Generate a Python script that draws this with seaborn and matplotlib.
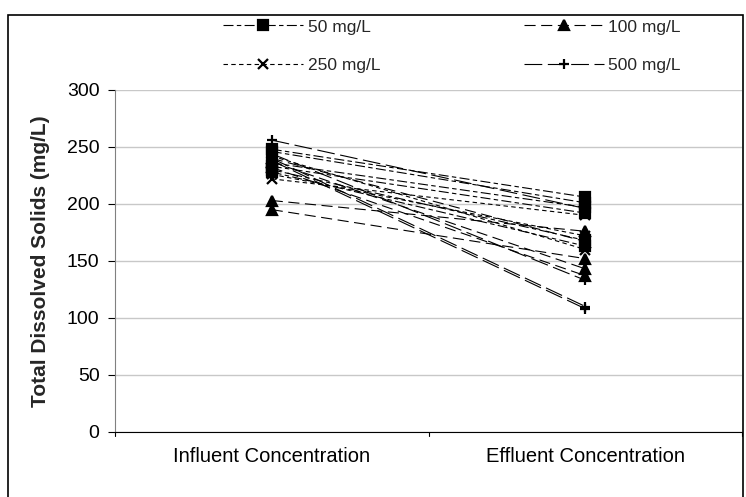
import pandas as pd
import matplotlib.pyplot as plt
import seaborn as sns
from matplotlib.lines import Line2D
from matplotlib.patches import Rectangle

# Data: one influent/effluent pair per test run
stages = ["Influent Concentration", "Effluent Concentration"]
conc_labels = ["50 mg/L", "100 mg/L", "250 mg/L", "500 mg/L"]

influent_50 = [248, 246, 236, 233, 230, 228]
effluent_50 = [206, 201, 197, 192, 168, 163]
influent_100 = [203, 195, 240, 237, 232]
effluent_100 = [176, 152, 167, 143, 137]
influent_250 = [222, 226, 242]
effluent_250 = [190, 172, 160]
influent_500 = [256, 244, 240, 238]
effluent_500 = [196, 133, 110, 108]

y_ticks = [0, 50, 100, 150, 200, 250, 300]

runs = {
    "50 mg/L": (influent_50, effluent_50),
    "100 mg/L": (influent_100, effluent_100),
    "250 mg/L": (influent_250, effluent_250),
    "500 mg/L": (influent_500, effluent_500),
}

rows = []
for conc, (inf, eff) in runs.items():
    for i, (a, b) in enumerate(zip(inf, eff)):
        rows.append({"conc": conc, "run": f"{conc}-{i}", "stage": stages[0], "tds": a})
        rows.append({"conc": conc, "run": f"{conc}-{i}", "stage": stages[1], "tds": b})
df = pd.DataFrame(rows)

markers = {"50 mg/L": "s", "100 mg/L": "^", "250 mg/L": "x", "500 mg/L": "+"}
dashes = {"50 mg/L": (9, 3, 4, 3), "100 mg/L": (10, 5), "250 mg/L": (4, 3), "500 mg/L": (16, 5)}

sns.set_style("white")
plt.rcParams["font.family"] = ["Liberation Sans", "DejaVu Sans"]

fig = plt.figure(figsize=(7.46, 4.97), dpi=100)
ax = fig.add_axes([0.154, 0.131, 0.841, 0.688])

# one call per concentration (seaborn won't mix filled and line-art markers)
for conc in conc_labels:
    sub = df[df["conc"] == conc]
    sns.lineplot(data=sub, x="stage", y="tds", units="run", estimator=None,
                 color="black", linewidth=0.8, marker=markers[conc], dashes=False,
                 markersize=7.5, markeredgewidth=1.6, markeredgecolor="black",
                 legend=False, ax=ax, sort=False)
    for line in ax.lines[-len(sub["run"].unique()):]:
        line.set_dashes(dashes[conc])

ax.set_xlim(-0.5, 1.5)
ax.set_ylim(0, 300)
ax.set_yticks(y_ticks)
ax.set_xticks([0, 1])
ax.set_xticklabels(stages)
ax.tick_params(axis="y", labelsize=14, colors="black")
ax.tick_params(axis="x", labelsize=14.5, colors="black", length=0, pad=11)
ax.tick_params(axis="y", direction="out", length=5, width=0.8, left=True, pad=6)
ax.yaxis.grid(True, color="#c8c8c8", linewidth=1)
ax.set_axisbelow(True)
ax.set_xlabel("")
ax.set_ylabel("Total Dissolved Solids (mg/L)", fontsize=15, fontweight="bold", labelpad=12)

for side in ["top", "right"]:
    ax.spines[side].set_visible(False)
ax.spines["left"].set_color("#808080")
ax.spines["bottom"].set_color("black")
ax.spines["left"].set_linewidth(0.8)
ax.spines["bottom"].set_linewidth(0.8)

# category tick marks between categories, below the axis
for xt in [-0.5, 0.5, 1.5]:
    ax.plot([xt, xt], [0, -4], color="black", lw=0.8, clip_on=False)

# legend: rows 50|100 and 250|500
handles = {c: Line2D([], [], color="black", lw=0.8, marker=markers[c], markersize=7.5,
                     markeredgewidth=1.6, dashes=dashes[c]) for c in conc_labels}
order = ["50 mg/L", "250 mg/L", "100 mg/L", "500 mg/L"]
fig.legend([handles[c] for c in order], order, loc="center",
           bbox_to_anchor=(0.606, 0.907), ncol=2, frameon=False, fontsize=12.5,
           handlelength=4.6, columnspacing=8.3, labelspacing=1.35, handletextpad=0.25)

# chart-area border
fig.patches.append(Rectangle((0.011, -0.01), 0.985, 0.98, transform=fig.transFigure,
                             fill=False, edgecolor="black", linewidth=1.2))

fig.savefig("out.png", dpi=100)
